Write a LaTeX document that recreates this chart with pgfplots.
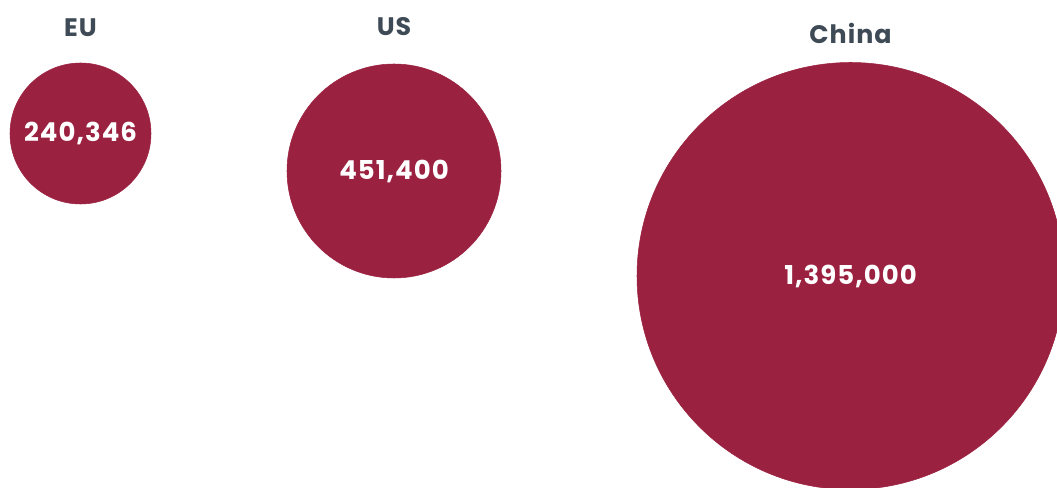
\documentclass[border=0pt]{standalone}
\usepackage{pgfplots}
\pgfplotsset{compat=1.18}
\usepackage{pgfplotstable}
\usepackage{fontspec}
\setmainfont{Poppins}[LetterSpace=4]
\definecolor{bubble}{HTML}{9B2140}
\definecolor{labelgray}{HTML}{3E4A55}

% x, y in pixels of a 1057x488 canvas, r = radius in pixels
\pgfplotstableread{
x     y     r      ty    val          name
80.5  133.5 70.5   27.5  240,346      EU
394   171   107    26.5  451,400      US
850.5 276   213.5  33    1,395,000    China
}\bubbles

\begin{document}
\begin{tikzpicture}
\begin{axis}[
    scale only axis,
    width=792.75pt, height=366pt,
    xmin=0, xmax=1057, ymin=0, ymax=488,
    y dir=reverse,
    hide axis,
    clip=true,
    clip marker paths=true,
]
% bubbles
\addplot[
    scatter, only marks, mark=*,
    point meta=\thisrow{r},
    scatter/use mapped color={draw=bubble, fill=bubble},
    visualization depends on={0.75*\thisrow{r} \as \rad},
    scatter/@pre marker code/.append style={/tikz/mark size=\rad},
] table[x=x, y=y] {\bubbles};
% values inside
\addplot[
    only marks, mark=none,
    point meta=explicit symbolic,
    nodes near coords,
    every node near coord/.append style={text=white, font=\fontsize{19.5}{21}\selectfont\bfseries, anchor=center},
] table[x=x, y=y, meta=val] {\bubbles};
% region names
\addplot[
    only marks, mark=none,
    point meta=explicit symbolic,
    nodes near coords,
    every node near coord/.append style={text=labelgray, font=\fontsize{19}{21}\selectfont\bfseries, anchor=center},
] table[x=x, y=ty, meta=name] {\bubbles};
\end{axis}
\pgfresetboundingbox
\path (0,0) rectangle (792.75pt,366pt);
\end{tikzpicture}
\end{document}
